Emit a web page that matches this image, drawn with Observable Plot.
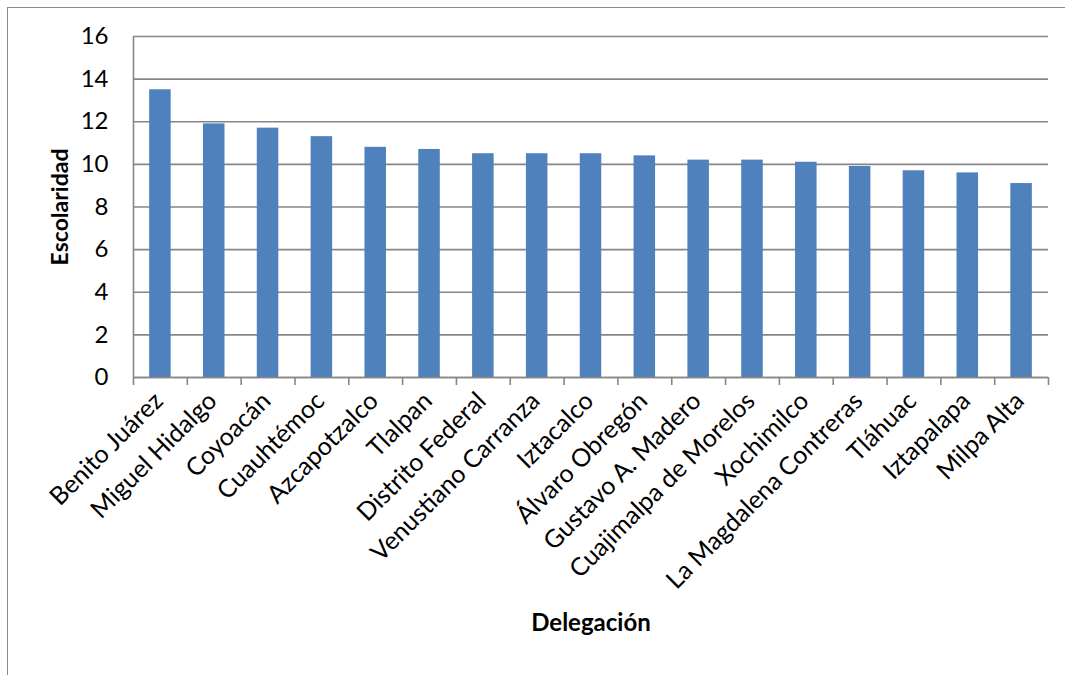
<!DOCTYPE html>
<html>
<head>
<meta charset="utf-8">
<script src="https://cdn.jsdelivr.net/npm/d3@7"></script>
<script src="https://cdn.jsdelivr.net/npm/@observablehq/plot@0.6"></script>
<style>
  html, body { margin: 0; padding: 0; background: #fff; }
  #wrap { position: relative; width: 1065px; height: 675px; overflow: hidden; }
  #border { position: absolute; left: 7px; top: 7px; width: 1200px; height: 800px; border: 1.5px solid #8c8c8c; box-sizing: border-box; }
  #chart { position: absolute; left: 0; top: 0; }
</style>
</head>
<body>
<div id="wrap"><div id="border"></div><div id="chart"></div></div>
<script>
const categories = ["Benito Juárez", "Miguel Hidalgo", "Coyoacán", "Cuauhtémoc", "Azcapotzalco", "Tlalpan", "Distrito Federal", "Venustiano Carranza", "Iztacalco", "Álvaro Obregón", "Gustavo A. Madero", "Cuajimalpa de Morelos", "Xochimilco", "La Magdalena Contreras", "Tláhuac", "Iztapalapa", "Milpa Alta"];
const values = [13.5, 11.9, 11.7, 11.3, 10.8, 10.7, 10.5, 10.5, 10.5, 10.4, 10.2, 10.2, 10.1, 9.9, 9.7, 9.6, 9.1];
const yTicks = [0, 2, 4, 6, 8, 10, 12, 14, 16];
const yTitle = "Escolaridad";
const xTitle = "Delegación";

const data = categories.map((c, i) => ({cat: c, val: values[i]}));
const W = 1065, H = 675;
const mL = 133, mR = 17, mT = 36, mB = H - 377;
const step = (W - mL - mR) / categories.length;
const grid = "#868686";
const FONT = "Lato, sans-serif";

const chart = Plot.plot({
  width: W, height: H,
  marginLeft: mL, marginRight: mR, marginTop: mT, marginBottom: mB,
  style: {fontFamily: FONT, color: "#000", background: "transparent", fontSize: "24px"},
  x: {domain: categories, paddingInner: 0.6, paddingOuter: 0.3, round: false, axis: null},
  y: {domain: [0, 16], axis: null},
  marks: [
    Plot.gridY(yTicks, {stroke: grid, strokeOpacity: 1, strokeWidth: 1.6}),
    Plot.ruleY(yTicks, {y: d => d, x1: categories[0], x2: categories[0], dx: -step / 2, insetLeft: -8, stroke: grid, strokeWidth: 1.6}),
    Plot.text(yTicks, {y: d => d, frameAnchor: "left", dx: -25, textAnchor: "end", fontSize: 24, fill: "#000", text: d => String(d)}),
    Plot.barY(data, {x: "cat", y: "val", fill: "#4F81BD"}),
    Plot.ruleX([categories[0]], {dx: -step / 2, stroke: grid, strokeWidth: 1.6}),
    Plot.ruleY([0], {stroke: grid, strokeWidth: 1.6}),
    Plot.ruleX(categories, {x: d => d, y1: 0, y2: 0, insetBottom: -8, dx: -step / 2, stroke: grid, strokeWidth: 1.6}),
    Plot.ruleX([categories[categories.length - 1]], {y1: 0, y2: 0, insetBottom: -8, dx: step / 2, stroke: grid, strokeWidth: 1.6}),
    Plot.text(categories, {x: d => d, frameAnchor: "bottom", dy: 25, dx: 4, rotate: -45, textAnchor: "end", fontSize: 25, fill: "#000"}),
    Plot.text([yTitle], {frameAnchor: "left", dx: -73, rotate: -90, textAnchor: "middle", fontSize: 23, fontWeight: "bold", fill: "#000"}),
    Plot.text([xTitle], {frameAnchor: "bottom", dy: 253, textAnchor: "middle", fontSize: 24, fontWeight: "bold", fill: "#000"})
  ]
});
document.getElementById("chart").appendChild(chart);
</script>
</body>
</html>
